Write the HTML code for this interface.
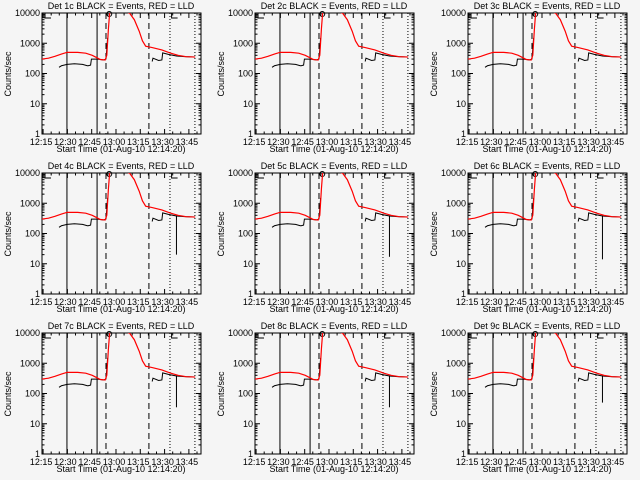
<!DOCTYPE html>
<html><head><meta charset="utf-8"><style>
body{margin:0;background:#f5f5f5;}
svg{display:block;font-family:"Liberation Sans",sans-serif;}
text{font-size:9px;fill:#000;}
</style></head><body>
<svg id="c" width="640" height="480" viewBox="0 0 640 480"></svg>
<script>
const dets = [1,2,3,4,5,6,7,8,9];
const redT = [0,4,8,12,15.5,22,27,31,34,36,39,40,41,42,54,57,60,62,64,68,74,79,84,89,94.5];
const redV = [300,320,370,440,500,500,470,400,330,290,280,400,3000,15000,10000,6000,2500,1200,800,720,600,480,400,360,350];
const blk1T = [10.5,12,15.5,20,25,28,28.5,30,30.5,34,38,39.5,40.5];
const blk1V = [160,180,200,210,200,180,180,190,300,300,280,300,1500];
const blk2T = [68,68.5,72,74,74.5,78,83,88,94.5];
const blk2V = [250,320,270,280,480,430,380,360,350];
const spikeDepth = [null,null,null,20,17,14,35,35,50];
const spikeT = 83;
const xTickLabels = ["12:15","12:30","12:45","13:00","13:15","13:30","13:45"];
const xTickMin = [0.67,15.67,30.67,45.67,60.67,75.67,90.67];
const yTicks = [1,10,100,1000,10000];
const yTickLabels = ["1","10","100","1000","10000"];
const ns="http://www.w3.org/2000/svg";
const svg=document.getElementById('c');
function mk(tag,at,parent){const e=document.createElementNS(ns,tag);for(const k in at)e.setAttribute(k,at[k]);(parent||svg).appendChild(e);return e;}
const L=42,R=201,T=13,B=134,PXM=1.62,DEC=30.25;
const xs=m=>L+m*PXM;
const ys=v=>B-DEC*Math.log10(v);
dets.forEach((d,i)=>{
  const ox=(i%3)*213, oy=Math.floor(i/3)*160;
  const g=mk('g',{transform:`translate(${ox},${oy})`});
  
  
  const cp=mk('clipPath',{id:'cp'+i},g);mk('rect',{x:L,y:T,width:R-L,height:B-T},cp);
  const t=mk('text',{x:121,y:9,'text-anchor':'middle','font-size':8.5},g);t.textContent=`Det ${d}c BLACK = Events, RED = LLD`;
  
  
  const fr=mk('rect',{x:L,y:T,width:R-L,height:B-T,fill:'none',stroke:'#000','stroke-width':1},g);
  
  
  yTicks.forEach((v,k)=>{
    const y=ys(v);
    mk('line',{x1:L,x2:L+5,y1:y,y2:y,stroke:'#000'},g);mk('line',{x1:R,x2:R-5,y1:y,y2:y,stroke:'#000'},g);
    const tl=mk('text',{x:L-2,y:y+3,'text-anchor':'end','font-size':7.5},g);tl.textContent=yTickLabels[k];
    
    
    if(k<yTicks.length-1)for(let m=2;m<10;m++){const yy=ys(v*m);
      mk('line',{x1:L,x2:L+2.5,y1:yy,y2:yy,stroke:'#000'},g);mk('line',{x1:R,x2:R-2.5,y1:yy,y2:yy,stroke:'#000'},g);}
  });
  xTickMin.forEach((m,k)=>{
    const x=xs(m);
    mk('line',{x1:x,x2:x,y1:B,y2:B-5,stroke:'#000'},g);mk('line',{x1:x,x2:x,y1:T,y2:T+5,stroke:'#000'},g);
    const tl=mk('text',{x:x-2,y:B+11,'text-anchor':'middle','font-size':7.5},g);tl.textContent=xTickLabels[k];
    
    
    for(let s=5;s<15;s+=5){const xx=xs(m+s);if(xx<R){mk('line',{x1:xx,x2:xx,y1:B,y2:B-2.5,stroke:'#000'},g);mk('line',{x1:xx,x2:xx,y1:T,y2:T+2.5,stroke:'#000'},g);}}
  });
  const xt=mk('text',{x:121,y:152,'text-anchor':'middle','font-size':8.5},g);xt.textContent='Start Time (01-Aug-10 12:14:20)';
  
  
  const yt=mk('text',{x:11,y:74,'text-anchor':'middle','font-size':7.5,transform:'rotate(-90 11 74)'},g);yt.textContent='Counts/sec';
  
  
  [[15.4,''],[34,''],[39.5,'6,4'],[66,'6,4'],[79,'1,2'],[94.4,'1,2']].forEach(([m,da])=>{
    const l=mk('line',{x1:xs(m),x2:xs(m),y1:T,y2:B,stroke:'#000','stroke-dasharray':da},g);
    
    
  });
  mk('path',{d:`M${L+3} ${T} V${T+5} H${L+9}`,fill:'none',stroke:'#000'},g);
  mk('path',{d:`M${xs(80)} ${T} V${T+5} H${xs(80)+6}`,fill:'none',stroke:'#000'},g);
  mk('circle',{cx:xs(41.5),cy:T+1,r:2.5,fill:'none',stroke:'#000'},g);
  const cg=mk('g',{'clip-path':`url(#cp${i})`},g);
  [[blk1T,blk1V],[blk2T,blk2V]].forEach(([tt,vv])=>{
    const p=mk('polyline',{points:tt.map((m,k)=>xs(m)+','+ys(vv[k])).join(' '),fill:'none',stroke:'#000','stroke-width':1},cg);
    
    
  });
  if(spikeDepth[i]!==null){
    const s=mk('line',{x1:xs(spikeT),x2:xs(spikeT),y1:ys(380),y2:ys(spikeDepth[i]),stroke:'#000'},cg);
    
    
  }
  const r=mk('polyline',{points:redT.map((m,k)=>xs(m)+','+ys(redV[k])).join(' '),fill:'none',stroke:'#f00','stroke-width':1.2},cg);
  
  
});
</script>
</body></html>
